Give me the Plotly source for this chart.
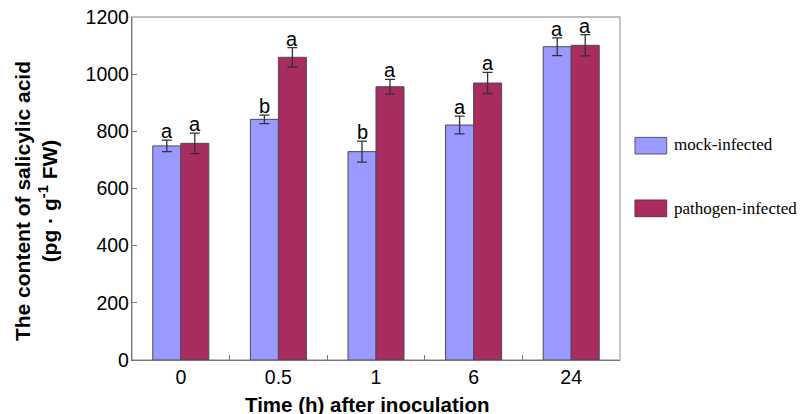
import plotly.graph_objects as go

times = ["0", "0.5", "1", "6", "24"]
mock = [749, 842, 729, 822, 1096]
mock_err = [20, 15, 37, 31, 31]
pathogen = [758, 1059, 956, 969, 1101]
pathogen_err = [36, 34, 26, 37, 37]
mock_letters = ["a", "b", "b", "a", "a"]
pathogen_letters = ["a", "a", "a", "a", "a"]
series_names = ["mock-infected", "pathogen-infected"]
y_ticks = [0, 200, 400, 600, 800, 1000, 1200]
y_title = "<b>The content of salicylic acid<br>(pg · g<sup>-1</sup> FW)</b>"
x_title = "<b>Time (h) after inoculation</b>"

MOCK_COLOR = "#9999ff"
PATH_COLOR = "#a82c5f"

fig = go.Figure()
for name, vals, errs, color in [
    (series_names[0], mock, mock_err, MOCK_COLOR),
    (series_names[1], pathogen, pathogen_err, PATH_COLOR),
]:
    fig.add_trace(go.Bar(
        x=times, y=vals, name=name,
        marker=dict(color=color, line=dict(color="#4a4a5a", width=1)),
        error_y=dict(type="data", array=errs, color="#333333", thickness=1.3, width=5),
        showlegend=False,
    ))

annotations = []
for i, t in enumerate(times):
    for letters, vals, errs, shift in [
        (mock_letters, mock, mock_err, -14),
        (pathogen_letters, pathogen, pathogen_err, 14),
    ]:
        annotations.append(dict(
            x=i, y=vals[i] + errs[i], xref="x", yref="y",
            text=letters[i], showarrow=False, xshift=shift, yshift=-4,
            yanchor="bottom", font=dict(family="Liberation Sans, Arial", size=20, color="#000"),
        ))

# legend (drawn manually to match large swatches)
shapes = [
    dict(type="rect", xref="paper", yref="paper", x0=1.0307, x1=1.0957, y0=0.6006, y1=0.649,
         fillcolor=MOCK_COLOR, line=dict(color="#555577", width=1)),
    dict(type="rect", xref="paper", yref="paper", x0=1.0307, x1=1.0957, y0=0.4178, y1=0.4665,
         fillcolor=PATH_COLOR, line=dict(color="#663344", width=1)),
    dict(type="rect", xref="paper", yref="paper", x0=0, x1=1, y0=0, y1=1,
         line=dict(color="#aaaaaa", width=1.3), layer="below"),
]
legend_font = dict(family="Liberation Serif, Times New Roman", size=17, color="#000")
annotations += [
    dict(x=1.1066, y=0.627, xref="paper", yref="paper", text=series_names[0], showarrow=False,
         xanchor="left", yanchor="middle", font=legend_font),
    dict(x=1.1066, y=0.442, xref="paper", yref="paper", text=series_names[1], showarrow=False,
         xanchor="left", yanchor="middle", font=legend_font),
    # axis titles (placed as annotations to match the reference's offsets)
    dict(x=-0.1977, y=0.462, xref="paper", yref="paper", text=y_title, showarrow=False,
         textangle=-90, xanchor="center", yanchor="middle",
         font=dict(family="Liberation Sans, Arial", size=21, color="#000")),
    dict(x=0.4826, y=-0.1283, xref="paper", yref="paper", text=x_title, showarrow=False,
         xanchor="center", yanchor="middle",
         font=dict(family="Liberation Sans, Arial", size=20.5, color="#000")),
]

fig.update_layout(
    width=798, height=406,
    margin=dict(l=124, r=186, t=9, b=54),
    paper_bgcolor="white", plot_bgcolor="white",
    barmode="group", bargap=0.426, bargroupgap=0,
    font=dict(family="Liberation Sans, Arial", size=19, color="#000"),
    shapes=shapes, annotations=annotations,
    xaxis=dict(
        type="category", tickson="boundaries", ticks="inside", ticklen=5, tickcolor="#777",
        showline=True, linecolor="#777", linewidth=1.3, showgrid=False, automargin=False,
        tickfont=dict(size=19.5), ticklabelstandoff=-1, tickangle=0,
    ),
    yaxis=dict(
        range=[0, 1200], tickvals=y_ticks, ticks="inside", ticklen=5, tickcolor="#777",
        showline=True, linecolor="#777", linewidth=1.3, showgrid=False, zeroline=False,
        tickfont=dict(size=19.5), automargin=False, ticklabelstandoff=-2,
        ticklabeloverflow="allow",
    ),
)

fig.write_html("out.html")
